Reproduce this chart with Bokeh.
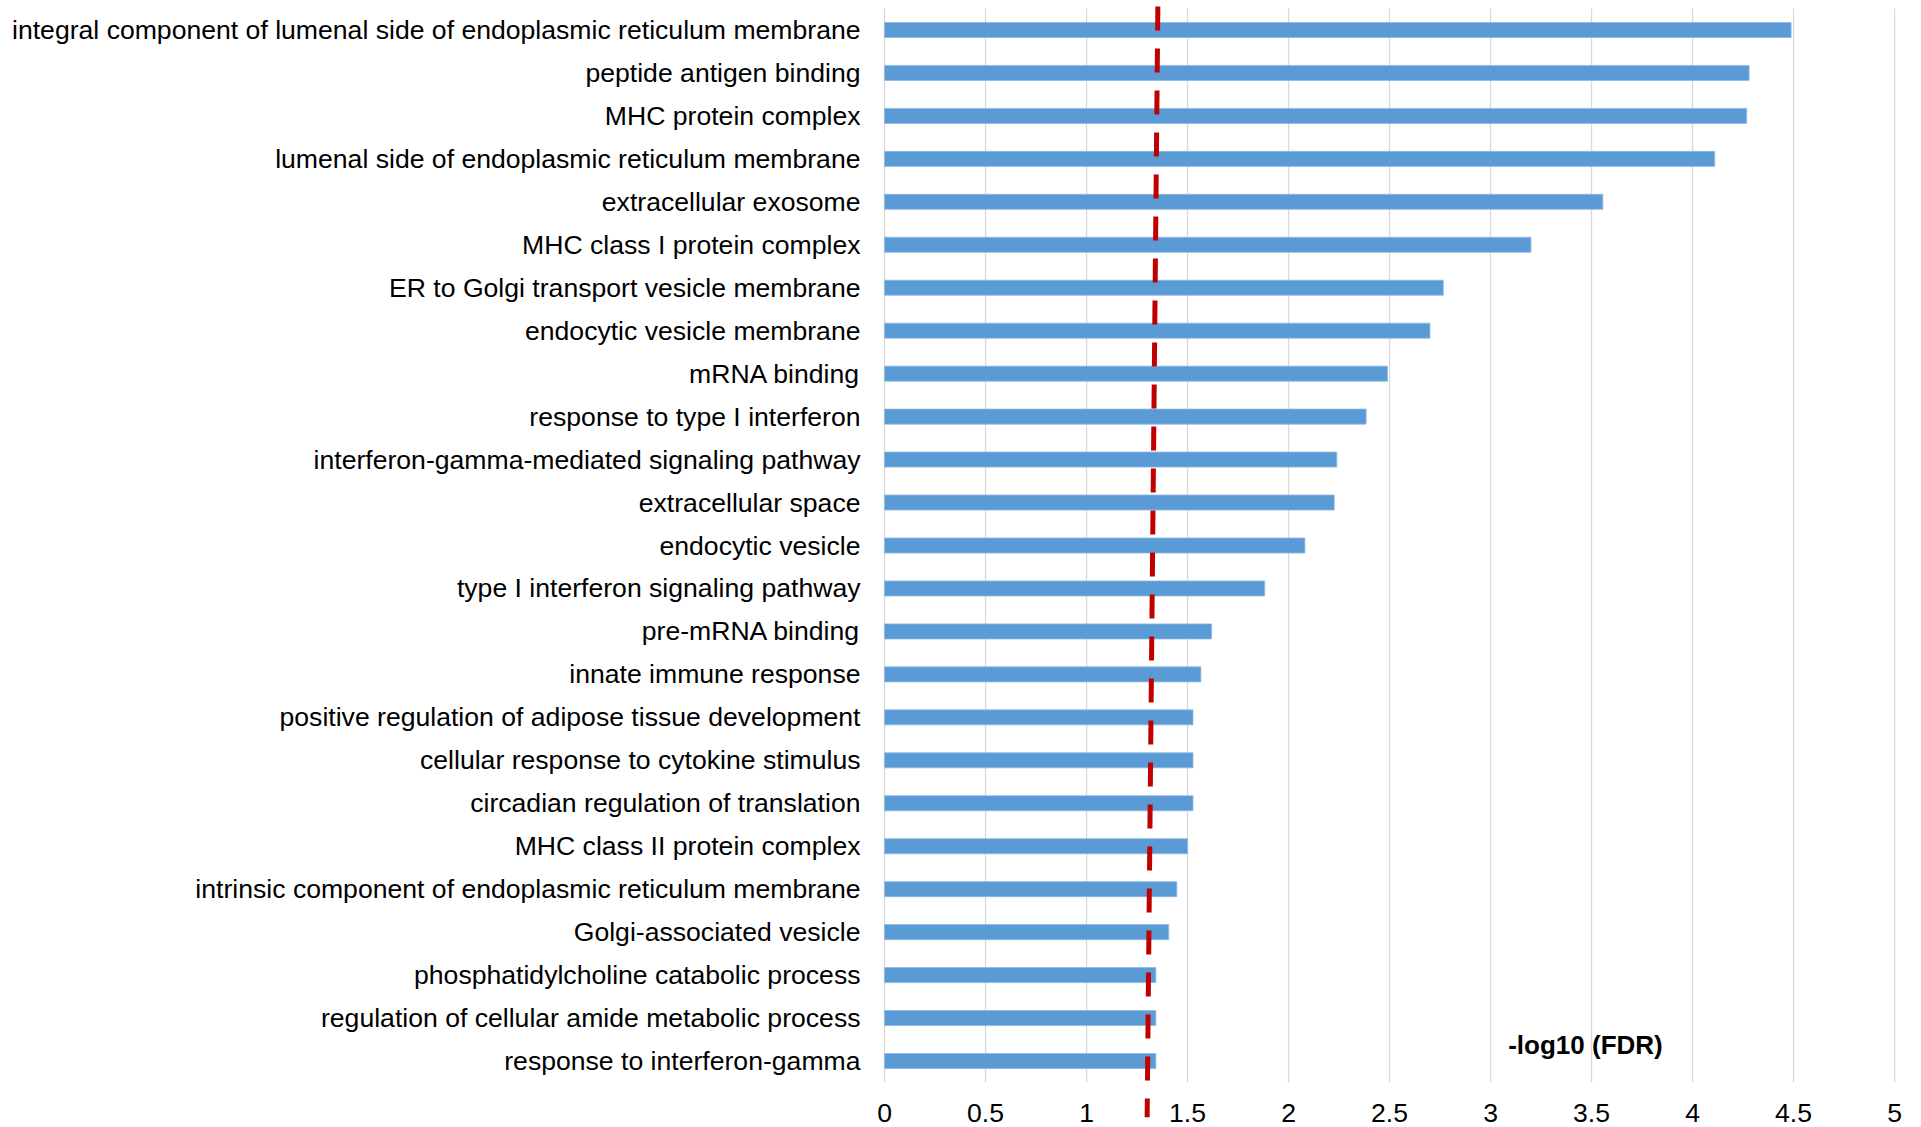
from bokeh.plotting import figure
from bokeh.models import Range1d, FixedTicker, NumeralTickFormatter, Label
from bokeh.embed import file_html
from bokeh.resources import INLINE

# ---------------- data ----------------
categories = [
    "integral component of lumenal side of endoplasmic reticulum membrane",
    "peptide antigen binding",
    "MHC protein complex",
    "lumenal side of endoplasmic reticulum membrane",
    "extracellular exosome",
    "MHC class I protein complex",
    "ER to Golgi transport vesicle membrane",
    "endocytic vesicle membrane",
    "mRNA binding",
    "response to type I interferon",
    "interferon-gamma-mediated signaling pathway",
    "extracellular space",
    "endocytic vesicle",
    "type I interferon signaling pathway",
    "pre-mRNA binding",
    "innate immune response",
    "positive regulation of adipose tissue development",
    "cellular response to cytokine stimulus",
    "circadian regulation of translation",
    "MHC class II protein complex",
    "intrinsic component of endoplasmic reticulum membrane",
    "Golgi-associated vesicle",
    "phosphatidylcholine catabolic process",
    "regulation of cellular amide metabolic process",
    "response to interferon-gamma",
]
neg_log10_fdr = [4.488, 4.280, 4.268, 4.110, 3.556, 3.200, 2.766, 2.700, 2.490,
                 2.384, 2.239, 2.226, 2.081, 1.882, 1.619, 1.566, 1.527, 1.527,
                 1.527, 1.500, 1.447, 1.407, 1.343, 1.343, 1.343]
x_ticks = [0, 0.5, 1, 1.5, 2, 2.5, 3, 3.5, 4, 4.5, 5]
threshold_top = 1.353      # -log10(0.05) cut-off line (drawn slightly slanted)
threshold_bottom = 1.300
axis_title = "-log10 (FDR)"

# ---------------- layout ----------------
n = len(categories)
positions = list(range(n))
PX_PER_X = 202.0
PX_PER_Y = 42.96
FRAME_W = 1018
FRAME_H = 1117
x_start = -0.02
x_end = x_start + FRAME_W / PX_PER_X
y_top = -0.5 - 8 / PX_PER_Y
y_bottom = y_top + FRAME_H / PX_PER_Y
line_top = -0.5 - 2 / PX_PER_Y

FONT = "Liberation Sans"

p = figure(width=1921, height=1127,
           x_range=Range1d(x_start, x_end),
           y_range=Range1d(y_bottom, y_top),
           output_backend="svg", toolbar_location=None,
           min_border_left=880, min_border_right=23,
           min_border_top=0, min_border_bottom=10)
p.outline_line_color = None
p.xgrid.visible = False
p.ygrid.visible = False
p.background_fill_color = "white"
p.border_fill_color = "white"

# vertical grid lines (only across the category bands)
p.segment(x0=x_ticks, y0=[-0.5] * len(x_ticks), x1=x_ticks, y1=[n - 0.5] * len(x_ticks),
          line_color="#D9D9D9", line_width=1.3)

# bars
p.hbar(y=positions, left=0, right=neg_log10_fdr, height=0.35,
       fill_color="#5B9BD5", line_color="#8DB9E4", line_width=0.8)

# threshold dashed line
p.segment(x0=[threshold_top], y0=[line_top], x1=[threshold_bottom], y1=[y_bottom],
          line_color="#C00000", line_width=5, line_dash="24 18", line_cap="butt")

# y axis (category labels)
yax = p.yaxis[0]
yax.ticker = FixedTicker(ticks=positions)
yax.major_label_overrides = {i: c for i, c in zip(positions, categories)}
yax.axis_line_color = None
yax.major_tick_line_color = None
yax.minor_tick_line_color = None
yax.major_tick_out = 0
yax.major_tick_in = 0
yax.major_label_standoff = 20
yax.major_label_text_font = FONT
yax.major_label_text_font_size = "26.6px"
yax.major_label_text_color = "#000000"

# x axis
xax = p.xaxis[0]
xax.ticker = FixedTicker(ticks=x_ticks)
xax.formatter = NumeralTickFormatter(format="0.[0]")
xax.axis_line_color = None
xax.major_tick_line_color = None
xax.minor_tick_line_color = None
xax.major_tick_out = 0
xax.major_tick_in = 0
xax.major_label_standoff = -14
xax.major_label_text_font = FONT
xax.major_label_text_font_size = "26.6px"
xax.major_label_text_color = "#000000"

p.add_layout(Label(x=3.47, y=n - 0.5 - (1082 - 1044) / PX_PER_Y, text=axis_title,
                   text_font=FONT, text_font_size="26px", text_font_style="bold",
                   text_align="center", text_baseline="alphabetic",
                   text_color="#000000"))

open("out.html", "w").write(file_html(p, INLINE))
